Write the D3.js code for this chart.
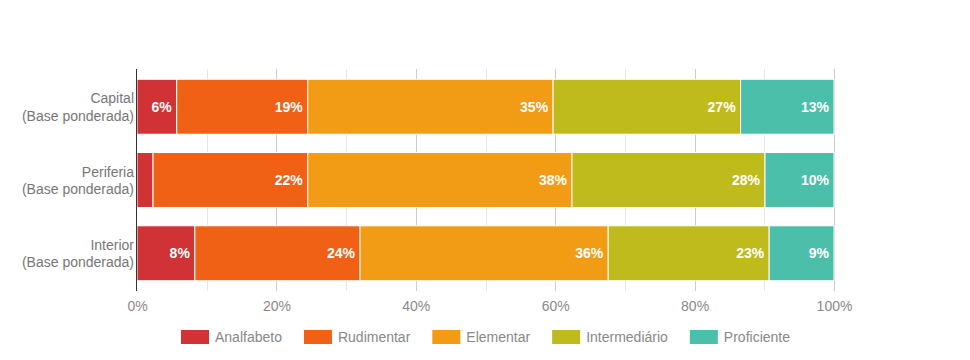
<!DOCTYPE html>
<html>
<head>
<meta charset="utf-8">
<script src="https://cdn.jsdelivr.net/npm/d3@7"></script>
<style>
  body { margin: 0; background: #fff; }
  text { font-family: "Liberation Sans", Arial, sans-serif; }
</style>
</head>
<body>
<svg id="chart"></svg>
<script>
// Data
var regions = ["Capital", "Periferia", "Interior"];
var levels = ["Analfabeto", "Rudimentar", "Elementar", "Intermediário", "Proficiente"];
var capital = [5.7, 18.8, 35.2, 26.9, 13.4];
var periferia = [2.3, 22.2, 37.9, 27.7, 9.9];
var interior = [8.3, 23.7, 35.6, 23.1, 9.3];
var colors = ["#d03236", "#f06116", "#f29b14", "#bfbb1c", "#4bbfa9"];
var xTicks = [0, 20, 40, 60, 80, 100];

const dims = {
    width: 970,
    height: 360,
    marginLeft: 137,
    marginRight: 136,
    marginTop: 69,
    marginBottom: 69
};

function chart(id) {
    const values = [capital, periferia, interior];

    const svg = d3.select('#' + id)
        .attr("width", dims.width)
        .attr("height", dims.height);

    let x = d3.scaleLinear()
        .domain([0, 100])
        .range([dims.marginLeft, dims.width - dims.marginRight]);

    let y = d3.scaleBand()
        .domain(regions)
        .range([dims.marginTop, dims.height - dims.marginBottom])
        .paddingInner(0.25)
        .paddingOuter(0.14);

    // grid lines every 10%, the 20% ones a bit darker
    svg.append("g")
        .selectAll("line")
        .data(d3.range(10, 101, 10))
        .join("line")
        .attr("x1", d => Math.round(x(d)) + 0.5)
        .attr("x2", d => Math.round(x(d)) + 0.5)
        .attr("y1", dims.marginTop)
        .attr("y2", dims.height - dims.marginBottom)
        .attr("stroke", d => d % 20 === 0 ? "#cccccc" : "#e6e6e6")
        .attr("stroke-width", 1);

    // x axis labels
    let xAxis = g => g
        .attr("transform", `translate(0, ${dims.height - dims.marginBottom})`)
        .call(d3.axisBottom(x).tickValues(xTicks).tickFormat(d => d + "%").tickSize(0).tickPadding(10))
        .call(g => g.select(".domain").remove())
        .call(g => g.selectAll("text")
            .attr("fill", "#8a8a8a")
            .style("font-size", "14px")
            .style("font-family", "Liberation Sans, Arial, sans-serif"));

    svg.append("g").call(xAxis);

    // stacked segments
    const rows = regions.map((r, i) => {
        let acc = 0;
        return values[i].map((v, j) => {
            const seg = { region: r, level: j, value: v, x0: acc, x1: acc + v };
            acc += v;
            return seg;
        });
    });

    const row = svg.append("g")
        .selectAll("g")
        .data(rows)
        .join("g");

    row.selectAll("rect")
        .data(d => d)
        .join("rect")
        .attr("x", d => x(d.x0))
        .attr("width", d => x(d.x1) - x(d.x0))
        .attr("y", d => y(d.region))
        .attr("height", y.bandwidth())
        .attr("fill", d => colors[d.level])
        .attr("stroke", "#fff")
        .attr("stroke-width", 1);

    row.selectAll("text")
        .data(d => d.filter(s => x(s.x1) - x(s.x0) > 30))
        .join("text")
        .attr("x", d => x(d.x1) - 5)
        .attr("y", d => y(d.region) + y.bandwidth() / 2)
        .attr("dy", "0.35em")
        .attr("text-anchor", "end")
        .attr("fill", "#fff")
        .style("font-size", "14px")
        .style("font-weight", "bold")
        .text(d => Math.round(d.value) + "%");

    // y axis line
    svg.append("line")
        .attr("x1", dims.marginLeft - 0.5)
        .attr("x2", dims.marginLeft - 0.5)
        .attr("y1", dims.marginTop)
        .attr("y2", dims.height - dims.marginBottom)
        .attr("stroke", "#333")
        .attr("stroke-width", 1);

    // y labels on two lines
    const yLab = svg.append("g")
        .selectAll("text")
        .data(regions)
        .join("text")
        .attr("text-anchor", "end")
        .attr("fill", "#777")
        .style("font-size", "14px")
        .attr("y", d => y(d) + y.bandwidth() / 2);
    yLab.append("tspan")
        .attr("x", dims.marginLeft - 3)
        .attr("dy", "-0.25em")
        .text(d => d);
    yLab.append("tspan")
        .attr("x", dims.marginLeft - 3)
        .attr("dy", "1.25em")
        .text("(Base ponderada)");

    // legend centred under the plot
    const legend = svg.append("g");
    const items = legend.selectAll("g")
        .data(levels)
        .join("g");
    items.append("rect")
        .attr("width", 28)
        .attr("height", 14)
        .attr("y", 330)
        .attr("fill", (d, i) => colors[i]);
    items.append("text")
        .attr("x", 34)
        .attr("y", 337)
        .attr("dy", "0.35em")
        .attr("fill", "#888")
        .style("font-size", "14px")
        .text(d => d);

    let pos = 0;
    const offsets = [];
    items.each(function() {
        const w = this.querySelector("text").getComputedTextLength();
        offsets.push(pos);
        pos += 34 + w + 22;
    });
    const total = pos - 22;
    const start = (x(0) + x(100)) / 2 - total / 2;
    items.attr("transform", (d, i) => `translate(${start + offsets[i]}, 0)`);
}

chart("chart");
</script>
</body>
</html>
